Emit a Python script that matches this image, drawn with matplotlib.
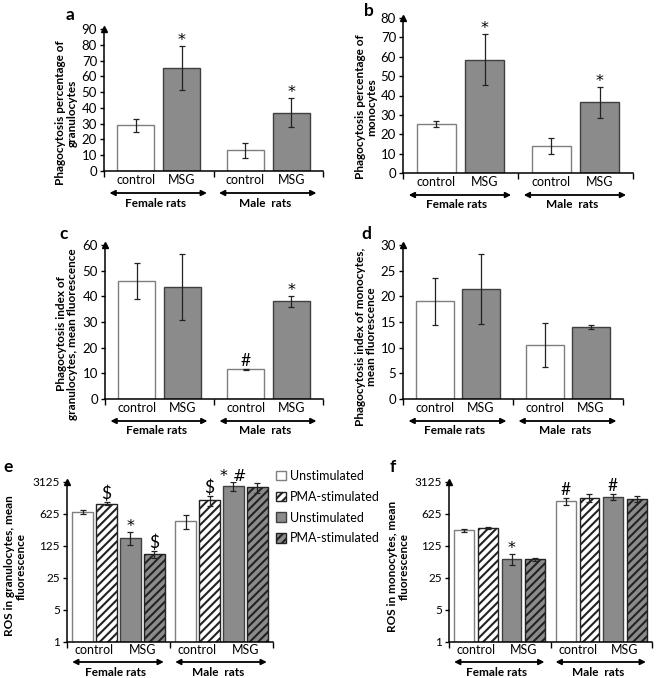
import numpy as np
import matplotlib.pyplot as plt
import matplotlib.transforms as mtransforms
from matplotlib.patches import Patch

plt.rcParams['font.family'] = ['Lato', 'DejaVu Sans']
plt.rcParams['hatch.linewidth'] = 1.5

W, H = 660, 678
fig = plt.figure(figsize=(W / 100, H / 100), dpi=100)

groups = ['Female rats', 'Male  rats']
treatments = ['control', 'MSG']

# a: phagocytosis % granulocytes (F control, F MSG, M control, M MSG)
gran_pct = [29, 65.5, 13, 37]
gran_pct_err = [4, 14, 5, 9]
gran_pct_marks = ['', '*', '', '*']

# b: phagocytosis % monocytes
mono_pct = [25.5, 58.5, 14, 36.5]
mono_pct_err = [1.5, 13, 4, 8]
mono_pct_marks = ['', '*', '', '*']

# c: phagocytosis index granulocytes
gran_idx = [46, 43.5, 11.5, 38]
gran_idx_err = [7, 12.8, 0.2, 2.3]
gran_idx_marks = ['', '', '#', '*']

# d: phagocytosis index monocytes
mono_idx = [19, 21.5, 10.5, 14]
mono_idx_err = [4.5, 6.8, 4.3, 0.4]
mono_idx_marks = ['', '', '', '']

# e/f: ROS, order per sex: ctrl unstim, ctrl PMA, MSG unstim, MSG PMA
ros_gran = [700, 1050, 190, 82, 440, 1250, 2600, 2400]
ros_gran_err = [60, 80, 60, 13, 150, 320, 600, 600]
ros_gran_marks = ['', '$', '*', '$', '', '$', '* #', '']

ros_mono = [275, 313, 65, 64, 1200, 1420, 1500, 1350]
ros_mono_err = [20, 20, 18, 5, 200, 300, 250, 200]
ros_mono_marks = ['', '', '*', '', '#', '', '#', '']

log_ticks = [1, 5, 25, 125, 625, 3125]
legend_labels = ['Unstimulated', 'PMA-stimulated', 'Unstimulated', 'PMA-stimulated']

GRAY = '#8b8b8b'
FS = 8


def px_axes(x0, y0, x1, y1):
    return fig.add_axes([x0 / W, 1 - y1 / H, (x1 - x0) / W, (y1 - y0) / H])


def below(ax, dy):
    base = mtransforms.blended_transform_factory(ax.transData, ax.transAxes)
    return base + mtransforms.ScaledTranslation(0, -dy / 100, fig.dpi_scale_trans)


def put_mark(ax, x, top, m):
    # Lato's asterisk is tiny, DejaVu's is closer to the original
    if m.startswith('*'):
        ax.annotate(m, xy=(x, top), xytext=(0, -2), textcoords='offset pixels',
                    ha='center', va='bottom', fontsize=11.5, parse_math=False,
                    family=['DejaVu Sans'])
    else:
        ax.annotate(m, xy=(x, top), xytext=(0, 0), textcoords='offset pixels',
                    ha='center', va='bottom', fontsize=12.5, parse_math=False)


def frame(ax, cat_x, cat_dy, arrow_dy, grp_dy):
    for s in ['top', 'right']:
        ax.spines[s].set_visible(False)
    for s in ['left', 'bottom']:
        ax.spines[s].set_linewidth(1.1)
    ax.plot(0, 1.0, marker='^', ms=4, color='black', transform=ax.transAxes, clip_on=False)
    ax.set_xlim(0, 2)
    ax.set_xticks([0, 1, 2])
    ax.set_xticklabels([])
    ax.tick_params(axis='x', direction='out', length=4, width=1)
    ax.tick_params(axis='y', direction='out', length=3, width=1, labelsize=FS + 1.5, pad=2)
    for x, name in cat_x:
        ax.text(x, 0, name, transform=below(ax, cat_dy), ha='center', va='center', fontsize=FS + 1)
    for g, name in enumerate(groups):
        tr = below(ax, arrow_dy)
        ax.annotate('', xy=(g + 0.94, 0), xytext=(g + 0.05, 0), xycoords=tr, textcoords=tr,
                    arrowprops=dict(arrowstyle='<|-|>', lw=1.3, color='black',
                                    mutation_scale=8, shrinkA=0, shrinkB=0))
        ax.text(g + 0.47, 0, name, transform=below(ax, grp_dy), ha='center', va='center',
                fontsize=FS + 0.5, fontweight='bold')


def simple_panel(rect, vals, errs, marks, ymax, step, ylabel, lab_xy, letter, let_xy):
    ax = px_axes(*rect)
    xs = []
    for g in range(2):
        xs += [g + 0.5 - 0.21, g + 0.5 + 0.21]
    faces = ['white', GRAY] * 2
    edges = ['#7f7f7f', '#404040'] * 2
    ax.bar(xs, vals, width=0.34, color=faces, edgecolor=edges, linewidth=1, zorder=2)
    ax.errorbar(xs, vals, yerr=errs, fmt='none', ecolor='#222222', elinewidth=0.9,
                capsize=2, capthick=0.9, zorder=3)
    for x, v, e, m in zip(xs, vals, errs, marks):
        if m:
            put_mark(ax, x, v + e, m)
    ax.set_ylim(0, ymax)
    ax.set_yticks(np.arange(0, ymax + 1, step))
    frame(ax, zip(xs, treatments * 2), 9, 22, 32)
    fig.text(lab_xy[0] / W, 1 - lab_xy[1] / H, ylabel, rotation=90, ha='center', va='center',
             fontsize=FS + 0.5, fontweight='bold', multialignment='center', linespacing=1.1)
    fig.text(let_xy[0] / W, 1 - let_xy[1] / H, letter, ha='center', va='center',
             fontsize=12.5, fontweight='bold')
    return ax


def ros_panel(rect, vals, errs, marks, ylabel, lab_xy, letter, let_xy):
    ax = px_axes(*rect)
    ax.set_yscale('log', base=5)
    step = 0.233
    offs = np.array([-1.5, -0.5, 0.5, 1.5]) * step
    xs = np.concatenate([g + 0.5 + offs for g in range(2)])
    faces = ['white', 'white', GRAY, GRAY] * 2
    edges = ['#7f7f7f', '#222222', '#404040', '#222222'] * 2
    hatches = [None, '////', None, '////'] * 2
    for x, v, fc, ec, h in zip(xs, vals, faces, edges, hatches):
        ax.bar(x, v, width=0.195, bottom=0, color=fc, edgecolor=ec, hatch=h, linewidth=1, zorder=2)
    ax.errorbar(xs, vals, yerr=errs, fmt='none', ecolor='#222222', elinewidth=0.9,
                capsize=2, capthick=0.9, zorder=3)
    for x, v, e, m in zip(xs, vals, errs, marks):
        if m:
            put_mark(ax, x, v + e, m)
    ax.set_ylim(1, 3125)
    ax.set_yticks(log_ticks)
    ax.set_yticklabels([str(t) for t in log_ticks])
    ax.minorticks_off()
    cats = []
    for g in range(2):
        cats += [(g + 0.5 - step, 'control'), (g + 0.5 + step, 'MSG')]
    frame(ax, cats, 8, 20, 31)
    ax.tick_params(axis='y', labelsize=FS + 0.5)
    fig.text(lab_xy[0] / W, 1 - lab_xy[1] / H, ylabel, rotation=90, ha='center', va='center',
             fontsize=FS + 0.5, fontweight='bold', multialignment='center', linespacing=1.1)
    fig.text(let_xy[0] / W, 1 - let_xy[1] / H, letter, ha='center', va='center',
             fontsize=12.5, fontweight='bold')
    return ax


simple_panel((104, 29, 323, 171), gran_pct, gran_pct_err, gran_pct_marks, 90, 10,
             'Phagocytosis percentage of\ngranulocytes', (66, 113), 'a', (70, 15))
simple_panel((403, 18, 633, 173), mono_pct, mono_pct_err, mono_pct_marks, 80, 10,
             'Phagocytosis percentage of\nmonocytes', (366, 107), 'b', (369, 11))
simple_panel((105, 245, 323, 399), gran_idx, gran_idx_err, gran_idx_marks, 60, 10,
             'Phagocytosis index of\ngranulocytes, mean fluorescence', (67, 334), 'c', (64, 234))
simple_panel((403, 245, 623, 399), mono_idx, mono_idx_err, mono_idx_marks, 30, 5,
             'Phagocytosis index of monocytes,\nmean fluorescence', (366, 337), 'd', (366, 234))

ros_panel((67, 482, 273, 642), ros_gran, ros_gran_err, ros_gran_marks,
          'ROS in granulocytes, mean\nfluorescence', (15, 566), 'e', (8, 467))
ros_panel((449, 482, 652, 642), ros_mono, ros_mono_err, ros_mono_marks,
          'ROS in monocytes, mean\nfluorescence', (398, 566), 'f', (393, 467))

handles = [Patch(facecolor='white', edgecolor='#7f7f7f'),
           Patch(facecolor='white', edgecolor='#222222', hatch='////'),
           Patch(facecolor=GRAY, edgecolor='#404040'),
           Patch(facecolor=GRAY, edgecolor='#222222', hatch='////')]
fig.legend(handles, legend_labels, loc='upper left', bbox_to_anchor=(276 / W, 1 - 470 / H),
           frameon=False, fontsize=FS + 1, handlelength=0.8, handleheight=0.8,
           handletextpad=0.3, labelspacing=0.7, borderaxespad=0, borderpad=0)

fig.savefig('out.png', dpi=100)
